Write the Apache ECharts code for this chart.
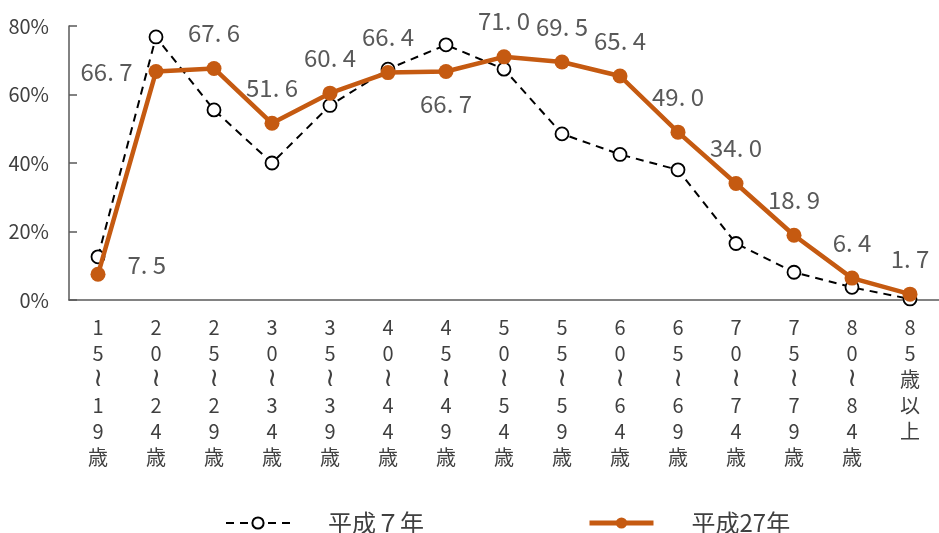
<!DOCTYPE html>
<html><head><meta charset="utf-8">
<script src="https://cdn.jsdelivr.net/npm/echarts@6/dist/echarts.min.js"></script>
<style>html,body{margin:0;padding:0;background:#fff}#c{width:939px;height:533px}</style>
</head><body><div id="c"></div>
<script>
var categories = ["15〜19歳","20〜24歳","25〜29歳","30〜34歳","35〜39歳","40〜44歳","45〜49歳","50〜54歳","55〜59歳","60〜64歳","65〜69歳","70〜74歳","75〜79歳","80〜84歳","85歳以上"];
var seriesH7 = [12.6, 76.8, 55.5, 40.0, 56.8, 67.4, 74.5, 67.4, 48.5, 42.5, 38.0, 16.5, 8.1, 3.7, 0.3];
var seriesH27 = [7.5, 66.7, 67.6, 51.6, 60.4, 66.4, 66.7, 71.0, 69.5, 65.4, 49.0, 34.0, 18.9, 6.4, 1.7];
var seriesNames = ["平成７年", "平成27年"];
var yTicks = [0, 20, 40, 60, 80];

var FONT = '"Liberation Sans Narrow","Noto Sans CJK JP",sans-serif';
var labelPos = {0:{position:'right',distance:22,offset:[0,-9]},1:{position:'left',distance:16},6:{position:'bottom',distance:13}};
var h27data = seriesH27.map(function(v,i){
  var d = {value:v};
  if (labelPos[i]) d.label = labelPos[i];
  return d;
});
var chart = echarts.init(document.getElementById('c'));
chart.setOption({
  animation:false,
  textStyle:{fontFamily:FONT},
  grid:{left:69, top:26, width:874, height:274, containLabel:false},
  xAxis:{type:'category', data:categories, boundaryGap:true,
    axisLine:{lineStyle:{color:'#595959',width:1.5}},
    axisTick:{inside:true,length:6,lineStyle:{color:'#595959',width:1.5}},
    axisLabel:{interval:0, margin:14, fontSize:20, lineHeight:26, color:'#404040', fontFamily:FONT,
      formatter:function(s){return s.split('').map(function(c){return c==='〜'?'{w|≀}':c;}).join('\n');},
      rich:{w:{fontSize:26, lineHeight:26, color:'#404040', fontFamily:'"DejaVu Sans",sans-serif'}}}
  },
  yAxis:{type:'value', min:0, max:80, interval:20,
    splitLine:{show:false},
    axisLine:{show:true,lineStyle:{color:'#595959',width:1.5}},
    axisTick:{show:true,inside:true,length:8,lineStyle:{color:'#595959',width:1.5}},
    axisLabel:{margin:20, fontSize:20, color:'#404040', fontFamily:FONT,
      formatter:function(v){return yTicks.indexOf(v)>=0 ? v+'%' : '';}}
  },
  legend:{left:220, top:506, itemWidth:64, itemHeight:14, itemGap:163,
    textStyle:{fontSize:24, color:'#404040', fontFamily:FONT, padding:[0,0,0,33]},
    data:[{name:seriesNames[0]},{name:seriesNames[1], lineStyle:{width:5}}]},
  series:[
    {name:seriesNames[0], type:'line', data:seriesH7, symbol:'circle', symbolSize:13,
     lineStyle:{color:'#000',width:2,type:[8,6]},
     itemStyle:{color:'#fff',borderColor:'#000',borderWidth:1.8}, z:2},
    {name:seriesNames[1], type:'line', data:h27data, symbol:'circle', symbolSize:15,
     lineStyle:{color:'#C55A11',width:4.5},
     itemStyle:{color:'#C55A11'}, z:3,
     label:{show:true, position:'top', distance:16, fontSize:24, color:'#595959', fontFamily:FONT,
       formatter:function(p){return p.value.toFixed(1).replace('.', '. ');}}}
  ]
});
</script></body></html>
